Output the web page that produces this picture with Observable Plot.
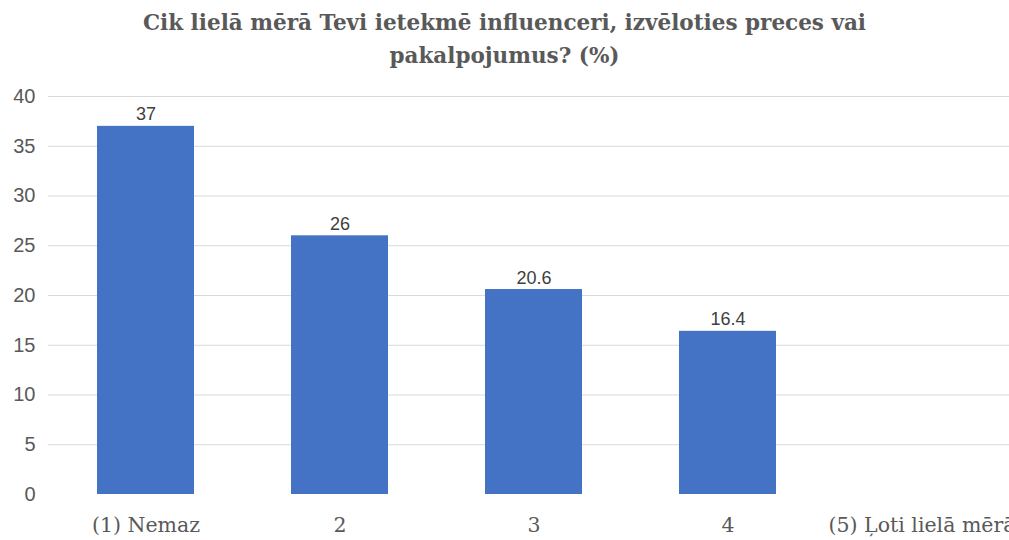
<!DOCTYPE html>
<html>
<head>
<meta charset="utf-8">
<script src="https://cdn.jsdelivr.net/npm/d3@7"></script>
<script src="https://cdn.jsdelivr.net/npm/@observablehq/plot@0.6"></script>
<style>
  html, body { margin: 0; padding: 0; background: #fff; overflow: hidden; width: 1009px; height: 540px; }
  #title { height: 78px; box-sizing: border-box; padding-top: 6px; text-align: center; font-family: "DejaVu Serif", serif; font-weight: bold; font-size: 21.5px; line-height: 33px; color: #595959; width: 1009px; white-space: nowrap; }
  #chart { width: 1009px; overflow: hidden; }
  #chart svg { display: block; max-width: none !important; }
</style>
</head>
<body>
<div id="title">Cik lielā mērā Tevi ietekmē influenceri, izvēloties preces vai<br>pakalpojumus? (%)</div>
<div id="chart"></div>
<script>
const categories = ["(1) Nemaz", "2", "3", "4", "(5) Ļoti lielā mērā"];
const values = [37, 26, 20.6, 16.4, null];
const yTicks = [0, 5, 10, 15, 20, 25, 30, 35, 40];

const data = categories.map((c, i) => ({category: c, value: values[i]}));
const withValues = data.filter(d => d.value != null);

const chart = Plot.plot({
  width: 1020,
  height: 462,
  marginTop: 18,
  marginBottom: 46,
  marginLeft: 48,
  marginRight: 2,
  style: {background: "#fff", overflow: "visible", maxWidth: "none"},
  x: {domain: categories, paddingInner: 0.5, paddingOuter: 0.25, label: null},
  y: {domain: [0, 40], ticks: yTicks, label: null},
  marks: [
    Plot.ruleY(yTicks.filter(t => t > 0), {stroke: "#d9d9d9", strokeWidth: 1}),
    Plot.barY(withValues, {x: "category", y: "value", fill: "#4472C4"}),
    Plot.text(withValues, {x: "category", y: "value", text: d => String(d.value), lineAnchor: "bottom", dy: -6, fontSize: 18, fill: "#404040", fontFamily: "Liberation Sans, sans-serif"}),
    Plot.axisY({ticks: yTicks, tickSize: 0, tickPadding: 13, fontSize: 20, fontFamily: "Liberation Sans, sans-serif", color: "#595959", label: null}),
    Plot.axisX({tickSize: 0, tickPadding: 23, fontSize: 20.5, fontFamily: "DejaVu Serif, serif", color: "#595959", label: null})
  ]
});
document.getElementById("chart").appendChild(chart);
</script>
</body>
</html>
